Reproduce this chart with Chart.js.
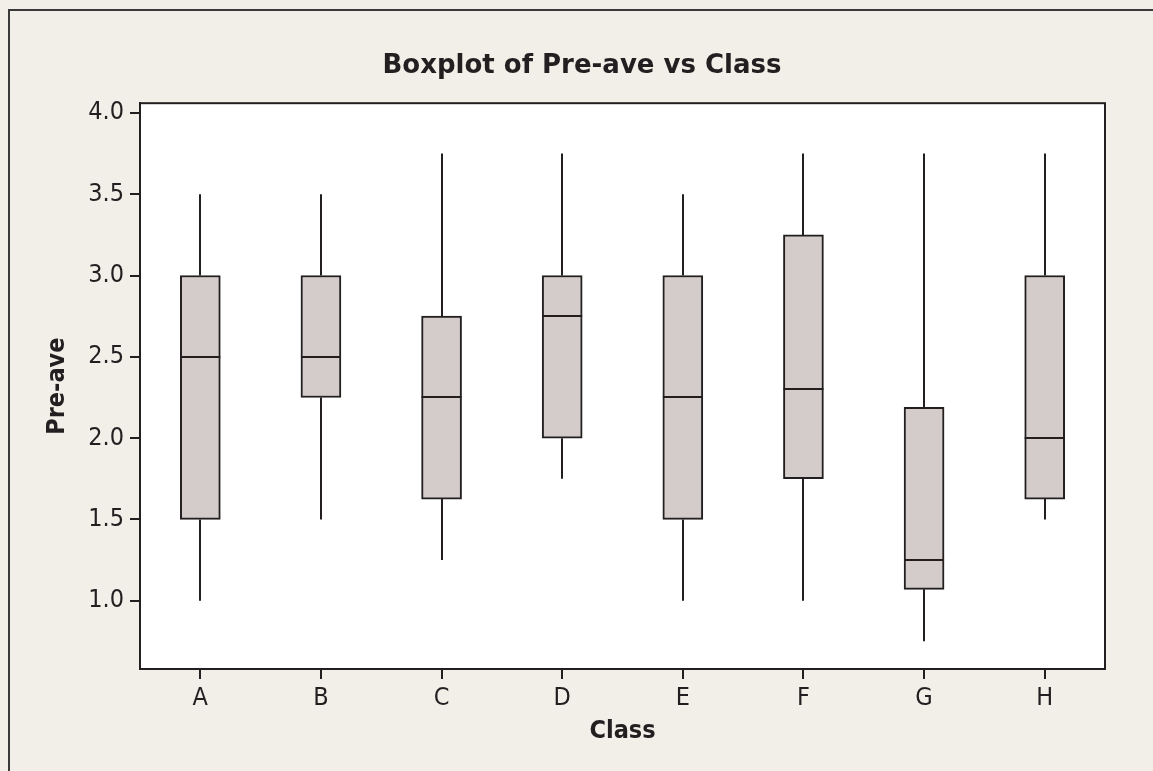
<!DOCTYPE html>
<html>
<head>
<meta charset="utf-8">
<script src="https://cdn.jsdelivr.net/npm/chart.js@4/dist/chart.umd.min.js"></script>
<style>
  html, body { margin: 0; padding: 0; background: #f2efe9; }
  #wrap { width: 1153px; height: 771px; position: relative; }
</style>
</head>
<body>
<div id="wrap"><canvas id="box-chart"></canvas></div>
<script>
const classes = ['A', 'B', 'C', 'D', 'E', 'F', 'G', 'H'];
const lowWhisker = [1.0, 1.5, 1.25, 1.75, 1.0, 1.0, 0.75, 1.5];
const q1 = [1.5, 2.25, 1.625, 2.0, 1.5, 1.75, 1.07, 1.625];
const medians = [2.5, 2.5, 2.25, 2.75, 2.25, 2.3, 1.25, 2.0];
const q3 = [3.0, 3.0, 2.75, 3.0, 3.0, 3.25, 2.19, 3.0];
const highWhisker = [3.5, 3.5, 3.75, 3.75, 3.5, 3.75, 3.75, 3.75];
const yTicks = [1.0, 1.5, 2.0, 2.5, 3.0, 3.5, 4.0];

const fontFamily = "'DejaVu Sans Condensed', 'DejaVu Sans', sans-serif";
const titleFamily = "'DejaVu Sans', sans-serif";
const ink = '#231f20';

// beige page, outer frame, white plot area, whiskers and medians
const boxParts = {
    id: 'boxParts',
    beforeDraw(chart) {
        const ctx = chart.ctx;
        const a = chart.chartArea;
        ctx.save();
        ctx.fillStyle = '#f2efe9';
        ctx.fillRect(0, 0, chart.width, chart.height);
        ctx.strokeStyle = '#3a3a3a';
        ctx.lineWidth = 2;
        ctx.strokeRect(9, 10, chart.width + 20, chart.height + 20);
        ctx.fillStyle = '#ffffff';
        ctx.fillRect(a.left, a.top, a.right - a.left, a.bottom - a.top);
        ctx.restore();
    },
    beforeDatasetsDraw(chart) {
        const ctx = chart.ctx;
        const x = chart.scales.x;
        const y = chart.scales.y;
        ctx.save();
        ctx.strokeStyle = ink;
        ctx.lineWidth = 2;
        classes.forEach((c, i) => {
            const px = Math.round(x.getPixelForValue(i));
            ctx.beginPath();
            ctx.moveTo(px, y.getPixelForValue(lowWhisker[i]));
            ctx.lineTo(px, y.getPixelForValue(q1[i]));
            ctx.moveTo(px, y.getPixelForValue(q3[i]));
            ctx.lineTo(px, y.getPixelForValue(highWhisker[i]));
            ctx.stroke();
        });
        ctx.restore();
    },
    afterDatasetsDraw(chart) {
        const ctx = chart.ctx;
        const a = chart.chartArea;
        const y = chart.scales.y;
        const bars = chart.getDatasetMeta(0).data;
        ctx.save();
        ctx.strokeStyle = ink;
        ctx.lineWidth = 2;
        bars.forEach((bar, i) => {
            const py = Math.round(y.getPixelForValue(medians[i]));
            ctx.beginPath();
            ctx.moveTo(bar.x - bar.width / 2, py);
            ctx.lineTo(bar.x + bar.width / 2, py);
            ctx.stroke();
        });
        ctx.strokeRect(a.left, a.top, a.right - a.left, a.bottom - a.top);
        ctx.restore();
    }
};

new Chart(document.getElementById('box-chart'), {
    type: 'bar',
    data: {
        labels: classes,
        datasets: [{
            label: 'Pre-ave',
            data: classes.map((c, i) => [q1[i], q3[i]]),
            backgroundColor: '#d4ccca',
            borderColor: ink,
            borderWidth: 2,
            borderSkipped: false,
            barThickness: 40
        }]
    },
    options: {
        responsive: true,
        maintainAspectRatio: false,
        animation: false,
        layout: {
            padding: { left: 59, right: 48, top: 0, bottom: 0 }
        },
        plugins: {
            legend: { display: false },
            tooltip: { enabled: false },
            title: {
                display: true,
                text: 'Boxplot of Pre-ave vs Class',
                color: ink,
                font: { family: titleFamily, size: 26, weight: 'bold' },
                padding: { top: 51, bottom: 21 }
            }
        },
        scales: {
            x: {
                offset: true,
                grid: {
                    display: true,
                    offset: false,
                    drawOnChartArea: false,
                    tickLength: 10,
                    tickColor: ink,
                    lineWidth: 2
                },
                border: { display: true, color: ink, width: 2 },
                ticks: {
                    color: ink,
                    padding: 4,
                    font: { family: fontFamily, size: 25 }
                },
                title: {
                    display: true,
                    text: 'Class',
                    color: ink,
                    font: { family: fontFamily, size: 25, weight: 'bold' },
                    padding: { top: 0, bottom: 25 }
                },
                afterFit(axis) { axis.height = 102; }
            },
            y: {
                min: 0.58,
                max: 4.06,
                grid: {
                    display: true,
                    drawOnChartArea: false,
                    tickLength: 10,
                    tickColor: ink,
                    lineWidth: 2
                },
                border: { display: true, color: ink, width: 2 },
                ticks: {
                    color: ink,
                    padding: 6,
                    font: { family: fontFamily, size: 25 },
                    callback: (v) => Number(v).toFixed(1)
                },
                afterBuildTicks(axis) {
                    axis.ticks = yTicks.map(v => ({ value: v }));
                },
                title: {
                    display: true,
                    text: 'Pre-ave',
                    color: ink,
                    font: { family: fontFamily, size: 25, weight: 'bold' },
                    padding: { top: -17, bottom: 0 }
                },
                afterFit(axis) { axis.width = 81; }
            }
        }
    },
    plugins: [boxParts]
});
</script>
</body>
</html>
